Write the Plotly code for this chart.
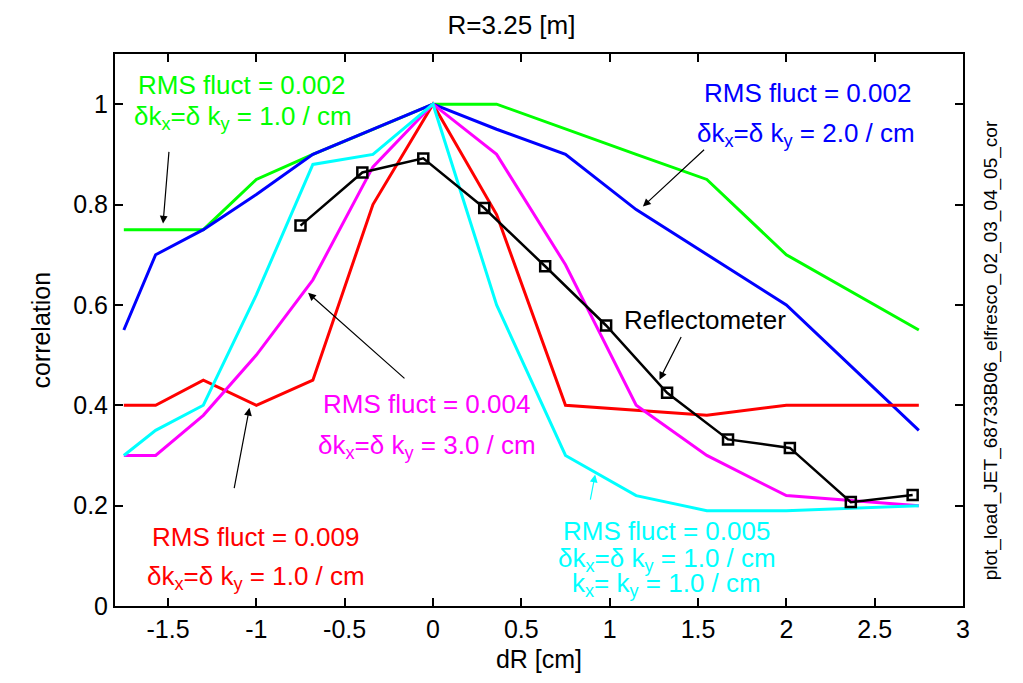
import plotly.graph_objects as go

# ---- data ----
dr_model = [-1.75, -1.57, -1.3, -1.0, -0.68, -0.34, 0.0, 0.36, 0.75, 1.15, 1.55, 2.0, 2.75]
corr_green = [0.75, 0.75, 0.75, 0.85, 0.90, 0.95, 1.0, 1.0, 0.95, 0.90, 0.85, 0.70, 0.55]
corr_blue = [0.55, 0.70, 0.75, 0.82, 0.90, 0.95, 1.0, 0.95, 0.90, 0.79, 0.70, 0.60, 0.35]
corr_red = [0.40, 0.40, 0.45, 0.40, 0.45, 0.80, 1.0, 0.78, 0.40, 0.39, 0.38, 0.40, 0.40]
corr_magenta = [0.30, 0.30, 0.38, 0.50, 0.65, 0.875, 1.0, 0.90, 0.68, 0.40, 0.30, 0.22, 0.20]
corr_cyan = [0.30, 0.35, 0.40, 0.62, 0.88, 0.90, 1.0, 0.60, 0.30, 0.22, 0.19, 0.19, 0.20]

dr_reflecto = [-0.75, -0.40, -0.055, 0.29, 0.635, 0.98, 1.325, 1.67, 2.02, 2.365, 2.715]
corr_reflecto = [0.758, 0.864, 0.892, 0.793, 0.677, 0.559, 0.425, 0.332, 0.315, 0.207, 0.221]

x_tickvals = [-1.5, -1, -0.5, 0, 0.5, 1, 1.5, 2, 2.5, 3]
x_ticktext = ["-1.5", "-1", "-0.5", "0", "0.5", "1", "1.5", "2", "2.5", "3"]
y_tickvals = [0, 0.2, 0.4, 0.6, 0.8, 1]
y_ticktext = ["0", "0.2", "0.4", "0.6", "0.8", "1"]

GREEN = "#00ff00"
BLUE = "#0000ff"
RED = "#ff0000"
MAGENTA = "#ff00ff"
CYAN = "#00ffff"
FONT = "Liberation Sans, Arial, sans-serif"

fig = go.Figure()
for y, c in [(corr_green, GREEN), (corr_blue, BLUE), (corr_red, RED),
             (corr_magenta, MAGENTA), (corr_cyan, CYAN)]:
    fig.add_trace(go.Scatter(x=dr_model, y=y, mode="lines",
                             line=dict(color=c, width=3), showlegend=False))
fig.add_trace(go.Scatter(x=dr_reflecto, y=corr_reflecto, mode="lines+markers",
                         line=dict(color="black", width=2.5),
                         marker=dict(symbol="square-open", size=10,
                                     color="black", line=dict(width=2.5, color="black")),
                         showlegend=False))

def label(x, y, text, color, size=26):
    fig.add_annotation(x=x, y=y, xref="x", yref="y", text=text, showarrow=False,
                       font=dict(family=FONT, size=size, color=color),
                       xanchor="center", yanchor="middle")

def arrow(x0, y0, x1, y1, color="black"):
    fig.add_annotation(x=x1, y=y1, ax=x0, ay=y0, xref="x", yref="y",
                       axref="x", ayref="y", text="", showarrow=True,
                       arrowhead=2, arrowsize=1.3, arrowwidth=1.2, arrowcolor=color)

dk = "\u03b4k<sub>x</sub>=\u03b4 k<sub>y</sub>"
# green
label(-1.084, 1.038, "RMS fluct = 0.002", GREEN)
label(-1.076, 0.973, dk + " = 1.0 / cm", GREEN)
arrow(-1.494, 0.908, -1.528, 0.762)
# blue
label(2.12, 1.023, "RMS fluct = 0.002", BLUE)
label(2.11, 0.939, dk + " = 2.0 / cm", BLUE)
arrow(1.543, 0.912, 1.188, 0.796)
# magenta
label(-0.034, 0.403, "RMS fluct = 0.004", MAGENTA)
label(-0.034, 0.318, dk + " = 3.0 / cm", MAGENTA)
arrow(-0.153, 0.451, -0.707, 0.624)
# red
label(-1.003, 0.138, "RMS fluct = 0.009", RED)
label(-1.003, 0.057, dk + " = 1.0 / cm", RED)
arrow(-1.127, 0.232, -1.039, 0.395)
# cyan
label(1.32, 0.149, "RMS fluct = 0.005", CYAN)
label(1.326, 0.093, dk + " = 1.0 / cm", CYAN)
label(1.32, 0.043, "k<sub>x</sub>= k<sub>y</sub> = 1.0 / cm", CYAN)
arrow(0.889, 0.209, 0.918, 0.262, CYAN)
# reflectometer
label(1.538, 0.570, "Reflectometer", "black")
arrow(1.409, 0.539, 1.282, 0.451)

# y-axis title and side label
fig.add_annotation(x=-0.1066, y=0.5, xref="paper", yref="paper", text="correlation",
                   showarrow=False, textangle=-90,
                   font=dict(family=FONT, size=25, color="black"))
fig.add_annotation(x=1.0477, y=0.464, xref="paper", yref="paper",
                   text="plot_load_JET_68733B06_elfresco_02_03_04_05_cor",
                   showarrow=False, textangle=-90,
                   font=dict(family=FONT, size=19, color="black"))

axis_common = dict(showline=True, linecolor="black", linewidth=2, mirror="ticks",
                   ticks="inside", ticklen=8, tickwidth=1.5, tickcolor="black",
                   showgrid=False, zeroline=False,
                   tickfont=dict(family=FONT, size=25, color="black"))

fig.update_layout(
    width=1023, height=683,
    margin=dict(l=115, r=60, t=54, b=77),
    paper_bgcolor="white", plot_bgcolor="white",
    title=dict(text="R=3.25 [m]", x=0.5, xref="container", xanchor="center",
               y=1 - 25 / 683, yref="container", yanchor="middle",
               font=dict(family=FONT, size=26, color="black")),
    xaxis=dict(range=[-1.8, 3], tickvals=x_tickvals, ticktext=x_ticktext,
               title=dict(text="dR [cm]", standoff=8,
                          font=dict(family=FONT, size=25, color="black")),
               **axis_common),
    yaxis=dict(range=[0, 1.1], tickvals=y_tickvals, ticktext=y_ticktext,
               **axis_common),
)

fig.write_html("out.html")
